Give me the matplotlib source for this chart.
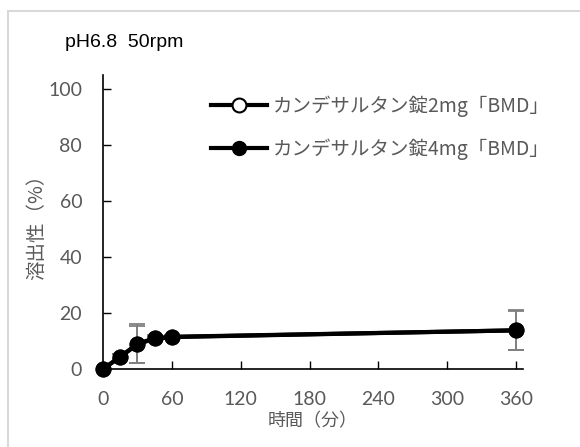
import matplotlib
matplotlib.use("Agg")
import matplotlib.pyplot as plt
from matplotlib.lines import Line2D
from matplotlib.patches import Rectangle

plt.rcParams['font.family'] = ['Lato', 'Noto Sans CJK JP', 'DejaVu Sans']

time_min = [0, 15, 30, 45, 60, 360]
tab2mg = [0, 4.3, 8.8, 10.9, 11.4, 13.8]
tab2mg_sd = [0, 1.0, 6.5, 1.0, 0.8, 7.0]
tab4mg = [0, 4.4, 9.0, 11.0, 11.5, 13.8]
tab4mg_sd = [0, 1.0, 6.9, 1.0, 0.8, 7.1]
labels = ["カンデサルタン錠2mg「BMD」", "カンデサルタン錠4mg「BMD」"]
xticks = [0, 60, 120, 180, 240, 300, 360]
yticks = [0, 20, 40, 60, 80, 100]

W, H = 580, 447
fig = plt.figure(figsize=(W / 100, H / 100), dpi=100)
ax = fig.add_axes([103 / W, 1 - 369 / H, (523 - 103) / W, (369 - 75) / H])

grey = '#595959'
ebc = '#808080'

for vals, sd, face in [(tab2mg, tab2mg_sd, 'white'), (tab4mg, tab4mg_sd, 'black')]:
    ax.errorbar(time_min, vals, yerr=sd, fmt='none', ecolor=ebc, elinewidth=1.3,
                capsize=6, capthick=1.3, zorder=2)
    ax.plot(time_min, vals, color='black', lw=3, marker='o', ms=10,
            markerfacecolor=face, markeredgecolor='black', markeredgewidth=1.5,
            zorder=3, clip_on=False)

ax.set_xlim(0, 366)
ax.set_ylim(0, 105)
ax.set_xticks(xticks)
ax.set_yticks(yticks)
ax.tick_params(direction='in', length=6, width=1, colors='black', labelcolor=grey,
               labelsize=14)
ax.tick_params(axis='y', pad=15)
ax.tick_params(axis='x', pad=16)
for s in ['top', 'right']:
    ax.spines[s].set_visible(False)
for s in ['left', 'bottom']:
    ax.spines[s].set_linewidth(1.2)

ax.set_xlabel('時間（分）', fontsize=13, color=grey, family=['Noto Sans CJK JP'])
ax.set_ylabel('溶出性（%）', fontsize=14, color=grey, family=['Noto Sans CJK JP'])
ax.xaxis.set_label_coords((313 - 103) / 420, -(412 - 369) / 294)
ax.yaxis.set_label_coords((47 - 103) / 420, 0.5)

fig.text(65 / W, 1 - 47 / H, 'pH6.8  50rpm', fontsize=14, color='black',
         ha='left', va='baseline', family=['Liberation Sans'])

handles = [
    Line2D([], [], color='black', lw=3, marker='o', ms=10, markerfacecolor='white',
           markeredgecolor='black', markeredgewidth=1.5),
    Line2D([], [], color='black', lw=3, marker='o', ms=10, markerfacecolor='black',
           markeredgecolor='black'),
]
leg = ax.legend(handles, labels, loc='upper left',
                bbox_to_anchor=((203 - 103) / 420, (369 - 88) / 294),
                frameon=False, handlelength=2.9, handletextpad=0.3, labelspacing=1.1,
                prop={'family': ['Noto Sans CJK JP'], 'size': 14}, borderaxespad=0)
for t in leg.get_texts():
    t.set_color(grey)

fig.patches.append(Rectangle((8 / W, -0.1), 1.2, 1 - 11 / H + 0.1, transform=fig.transFigure,
                             fill=False, edgecolor='#d9d9d9', lw=1.5))

fig.savefig('out.png', dpi=100)
